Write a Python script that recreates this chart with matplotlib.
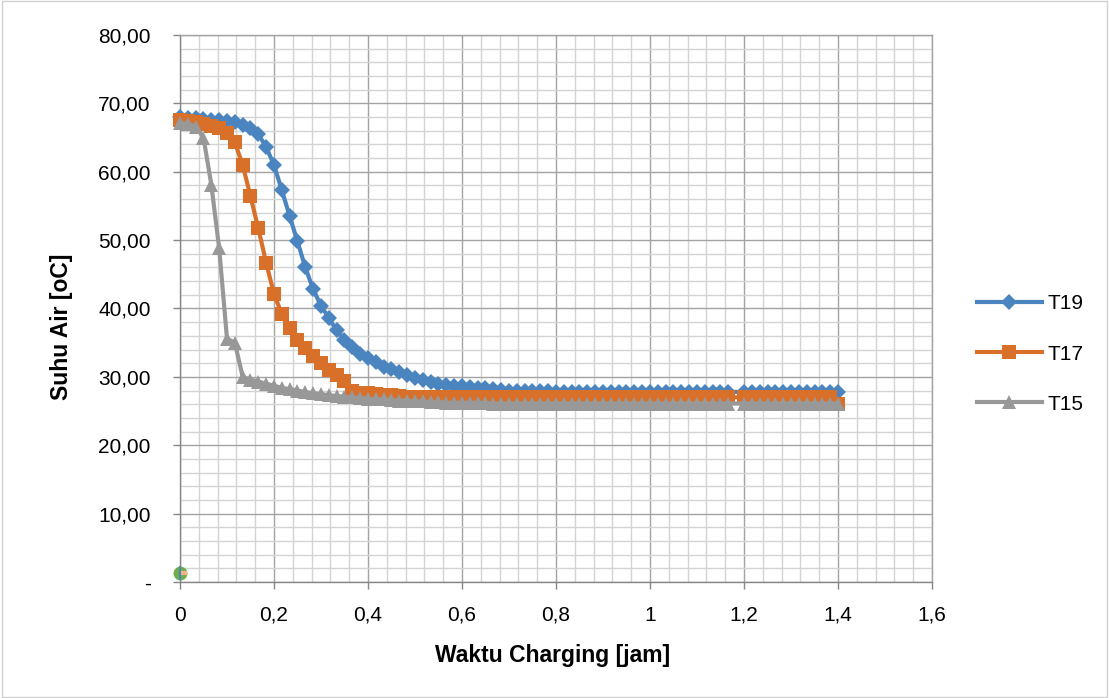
import matplotlib
matplotlib.use('Agg')
import matplotlib.pyplot as plt
from matplotlib.ticker import MultipleLocator
from matplotlib.patches import Rectangle

plt.rcParams['font.family'] = ['Liberation Sans', 'DejaVu Sans']

# sampling time in minutes (one reading per minute), converted to hours below
minutes = list(range(85))

# None = reading missing at that minute (Excel connects the line across it)
t19 = [68.0, 67.9, 67.8, 67.7, 67.6, 67.5, 67.4, 67.2, 66.9, 66.4,
       65.5, 63.6, 61.0, 57.3, 53.5, 49.8, 46.0, 42.8, 40.4, 38.6,
       36.8, 35.4, 34.3, 33.4, 32.7, 32.1, 31.5, 31.1, 30.7, 30.2,
       29.8, 29.5, 29.2, 29.0, 28.8, 28.7, 28.6, 28.5, 28.4, 28.3,
       28.2, 28.1, 28.0, 28.0, 27.9, 27.9, 27.9, 27.9, 27.8, 27.8,
       27.8, 27.8, 27.8, 27.8, 27.8, 27.8, 27.8, 27.8, 27.8, 27.8,
       27.8, 27.8, 27.8, 27.8, 27.8, 27.8, 27.8, 27.8, 27.8, 27.8,
       27.8, None, 27.8, 27.8, 27.8, 27.8, 27.8, 27.8, 27.8, 27.8,
       27.8, 27.8, 27.8, 27.8, 27.8]
t17 = [67.6, 67.4, 67.2, 67.0, 66.7, 66.4, 65.6, 64.3, 61.0, 56.4,
       51.7, 46.7, 42.1, 39.2, 37.1, 35.4, 34.2, 33.1, 32.0, 31.0,
       30.2, 29.4, 28.0, 27.7, 27.6, 27.5, 27.4, 27.3, 27.2, 27.1,
       27.1, 27.0, 27.0, 27.0, 27.0, 27.0, 27.0, 27.0, 27.0, 27.0,
       27.0, 27.0, 27.0, 27.0, 27.0, 27.0, 27.0, 27.0, 27.0, 27.0,
       27.0, 27.0, 27.0, 27.0, 27.0, 27.0, 27.0, 27.0, 27.0, 27.0,
       27.0, 27.0, 27.0, 27.0, 27.0, 27.0, 27.0, 27.0, 27.0, 27.0,
       27.0, None, 27.0, 27.0, 27.0, 27.0, 27.0, 27.0, 27.0, 27.0,
       27.0, 27.0, 27.0, 27.0, 26.0]
t15 = [67.1, 67.0, 66.6, 65.0, 58.1, 48.8, 35.6, 35.0, 30.0, 29.6,
       29.3, 29.0, 28.7, 28.4, 28.2, 28.0, 27.8, 27.6, 27.5, 27.3,
       27.2, 27.1, 27.0, 26.9, 26.8, 26.7, 26.7, 26.6, 26.5, 26.5,
       26.4, 26.4, 26.3, 26.3, 26.2, 26.2, 26.2, 26.2, 26.2, 26.2,
       26.1, 26.1, 26.1, 26.1, 26.1, 26.1, 26.1, 26.1, 26.1, 26.1,
       26.1, 26.1, 26.1, 26.1, 26.1, 26.1, 26.1, 26.1, 26.1, 26.1,
       26.1, 26.1, 26.1, 26.1, 26.1, 26.1, 26.1, 26.1, 26.1, 26.1,
       26.1, None, 26.1, 26.1, 26.1, 26.1, 26.1, 26.1, 26.1, 26.1,
       26.1, 26.1, 26.1, 26.1, 26.1]

# stray points of empty series sitting at the origin
stray_x = [0]
stray_y = [1.3]

series_names = ['T19', 'T17', 'T15']
xtick_vals = [0, 0.2, 0.4, 0.6, 0.8, 1.0, 1.2, 1.4, 1.6]
xtick_labels = ['0', '0,2', '0,4', '0,6', '0,8', '1', '1,2', '1,4', '1,6']
ytick_vals = [0, 10, 20, 30, 40, 50, 60, 70, 80]
ytick_labels = ['-', '10,00', '20,00', '30,00', '40,00', '50,00', '60,00', '70,00', '80,00']

blue = '#4A85C0'
orange = '#D9702A'
gray = '#989898'
green = '#70AD47'

fig = plt.figure(figsize=(11.09, 6.98), dpi=100)
fig.patch.set_facecolor('white')
fig.patches.append(Rectangle((0.0015, 0.002), 0.997, 0.996, transform=fig.transFigure,
                             fill=False, edgecolor='#d0d0d0', linewidth=1))

ax = fig.add_axes([0.1623, 0.1662, 0.6781, 0.7837])
ax.set_xlim(0, 1.6)
ax.set_ylim(0, 80)

styles = [(t19, blue, 'D', 8), (t17, orange, 's', 9.5), (t15, gray, '^', 10)]
for (vals, col, mk, ms), name in zip(styles, series_names):
    xs = [m / 60 for m, v in zip(minutes, vals) if v is not None]
    ys = [v for v in vals if v is not None]
    ax.plot(xs, ys, color=col, lw=3, marker=mk, markersize=ms,
            markeredgewidth=0, label=name, clip_on=False, zorder=3)

# origin markers
ax.plot(stray_x, stray_y, marker='o', ms=10, color=green, mew=0, ls='none',
        clip_on=False, zorder=4)
ax.plot(stray_x, stray_y, marker=[(0, 0), (1, 0)], ms=10, color='#F4B183',
        mew=3, ls='none', clip_on=False, zorder=5)
ax.plot(stray_x, stray_y, marker='|', ms=10, color=blue, mew=1.5, ls='none',
        clip_on=False, zorder=5)

ax.set_xticks(xtick_vals, xtick_labels)
ax.set_yticks(ytick_vals, ytick_labels)
ax.xaxis.set_minor_locator(MultipleLocator(0.04))
ax.yaxis.set_minor_locator(MultipleLocator(2))
ax.set_axisbelow(True)
ax.grid(which='minor', color='#d4d4d4', lw=1)
ax.grid(which='major', color='#a3a3a3', lw=1)

ax.tick_params(which='major', direction='out', length=5, width=1, color='#868686',
               labelsize=15, labelcolor='black')
ax.tick_params(axis='y', pad=16)
ax.tick_params(axis='x', pad=12)
ax.tick_params(which='minor', length=0)

for side in ['left', 'bottom']:
    ax.spines[side].set_color('#868686')
    ax.spines[side].set_linewidth(1)
for side in ['top', 'right']:
    ax.spines[side].set_color('#a3a3a3')
    ax.spines[side].set_linewidth(1)

ax.set_xlabel('Waktu Charging [jam]', fontsize=16.5, fontweight='bold')
ax.set_ylabel('Suhu Air [oC]', fontsize=16.5, fontweight='bold')
ax.xaxis.set_label_coords(0.496, -0.135)
ax.xaxis.label.set_va('center')
ax.yaxis.set_label_coords(-0.157, 0.466)
ax.yaxis.label.set_va('center')

ax.legend(loc='center left', bbox_to_anchor=(977 / 1109, 1 - 354 / 698),
          bbox_transform=fig.transFigure, frameon=False, fontsize=15,
          handlelength=3.1, handletextpad=0.3, labelspacing=1.5,
          borderpad=0, borderaxespad=0)

fig.savefig('out.png', dpi=100, facecolor='white')
